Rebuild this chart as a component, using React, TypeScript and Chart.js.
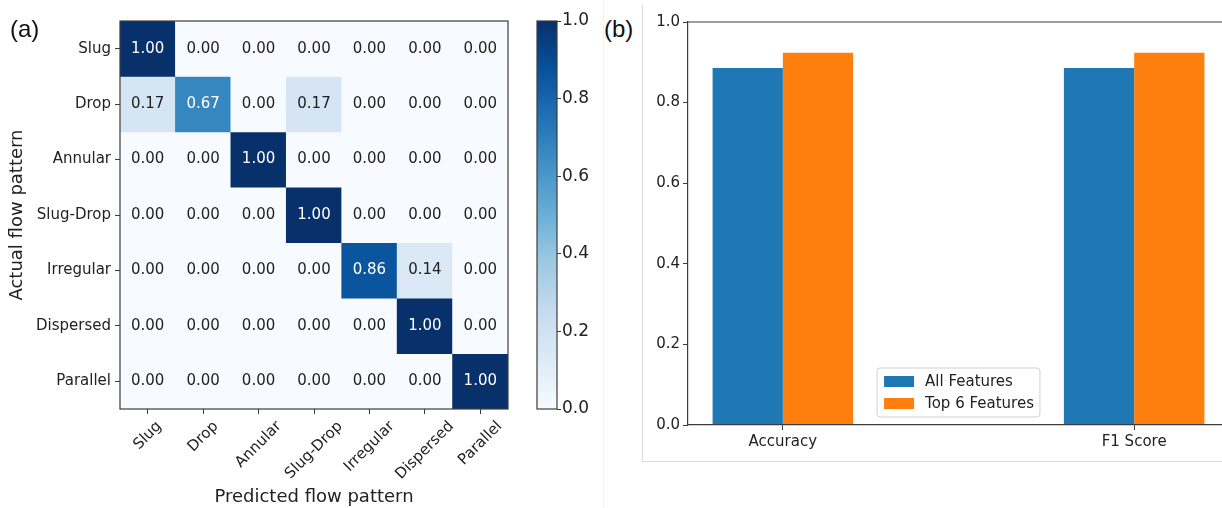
import React, { useEffect, useRef } from 'react';
import { Chart, registerables } from 'chart.js';

Chart.register(...registerables);

// ---------- data ----------
const actualLabels = ['Slug', 'Drop', 'Annular', 'Slug-Drop', 'Irregular', 'Dispersed', 'Parallel'];
const predictedLabels = ['Slug', 'Drop', 'Annular', 'Slug-Drop', 'Irregular', 'Dispersed', 'Parallel'];

const rowSlug = [1.0, 0.0, 0.0, 0.0, 0.0, 0.0, 0.0];
const rowDrop = [0.17, 0.67, 0.0, 0.17, 0.0, 0.0, 0.0];
const rowAnnular = [0.0, 0.0, 1.0, 0.0, 0.0, 0.0, 0.0];
const rowSlugDrop = [0.0, 0.0, 0.0, 1.0, 0.0, 0.0, 0.0];
const rowIrregular = [0.0, 0.0, 0.0, 0.0, 0.86, 0.14, 0.0];
const rowDispersed = [0.0, 0.0, 0.0, 0.0, 0.0, 1.0, 0.0];
const rowParallel = [0.0, 0.0, 0.0, 0.0, 0.0, 0.0, 1.0];
const confusionRows = [rowSlug, rowDrop, rowAnnular, rowSlugDrop, rowIrregular, rowDispersed, rowParallel];

const colorbarRange = [0, 1];
const colorbarTicks = [0.0, 0.2, 0.4, 0.6, 0.8, 1.0];

const metricLabels = ['Accuracy', 'F1 Score'];
const seriesNames = ['All Features', 'Top 6 Features'];
const allFeatures = [0.886, 0.886];
const top6Features = [0.924, 0.924];
const barTicks = [0.0, 0.2, 0.4, 0.6, 0.8, 1.0];

// ---------- styles ----------
const FONT = '"DejaVu Sans", sans-serif';
const TEXT = '#222222';
const SPINE = '#3c3c3c';
const BLUE = '#1f77b4';
const ORANGE = '#ff7f0e';

const BLUES_STOPS: [number, number[]][] = [
  [0.0, [247, 251, 255]],
  [0.125, [222, 235, 247]],
  [0.25, [198, 219, 239]],
  [0.375, [158, 202, 225]],
  [0.5, [107, 174, 214]],
  [0.625, [66, 146, 198]],
  [0.75, [33, 113, 181]],
  [0.875, [8, 81, 156]],
  [1.0, [8, 48, 107]],
];

function blues(v: number): string {
  const t = Math.max(0, Math.min(1, v));
  for (let i = 1; i < BLUES_STOPS.length; i++) {
    const [p1, c1] = BLUES_STOPS[i];
    const [p0, c0] = BLUES_STOPS[i - 1];
    if (t <= p1) {
      const f = (t - p0) / (p1 - p0);
      const c = c0.map((a, k) => Math.round(a + (c1[k] - a) * f));
      return `rgb(${c[0]},${c[1]},${c[2]})`;
    }
  }
  const c = BLUES_STOPS[BLUES_STOPS.length - 1][1];
  return `rgb(${c[0]},${c[1]},${c[2]})`;
}

function HeatmapChart() {
  const ref = useRef<HTMLCanvasElement>(null);
  useEffect(() => {
    const heatPlugin = {
      id: 'heat',
      beforeDatasetsDraw(chart: any) {
        const { ctx, chartArea: a } = chart;
        ctx.save();
        ctx.fillStyle = blues(0);
        ctx.fillRect(a.left, a.top, a.right - a.left, a.bottom - a.top);
        ctx.restore();
      },
      afterDatasetsDraw(chart: any) {
        const { ctx, chartArea: a } = chart;
        ctx.save();
        ctx.font = `15px ${FONT}`;
        ctx.textAlign = 'center';
        ctx.textBaseline = 'middle';
        confusionRows.forEach((row, i) => {
          const meta = chart.getDatasetMeta(i);
          row.forEach((v, j) => {
            const el: any = meta.data[j];
            const cy = (el.y + el.base) / 2;
            ctx.fillStyle = v > 0.5 ? '#ffffff' : TEXT;
            ctx.fillText(v.toFixed(2), el.x, cy);
          });
        });
        ctx.strokeStyle = SPINE;
        ctx.lineWidth = 1.2;
        ctx.strokeRect(a.left, a.top, a.right - a.left, a.bottom - a.top);
        // rotated x tick labels, centred under each tick
        const xs = chart.scales.x;
        ctx.fillStyle = TEXT;
        const h = 17;
        chart.data.labels.forEach((lab: string, i: number) => {
          const x = xs.getPixelForTick(i);
          const w = ctx.measureText(lab).width;
          const cy = xs.top + 5 + 4 + ((w + h) * Math.SQRT1_2) / 2;
          ctx.save();
          ctx.translate(x, cy);
          ctx.rotate(-Math.PI / 4);
          ctx.fillText(lab, 0, 0);
          ctx.restore();
        });
        ctx.restore();
      },
    };
    const chart = new Chart(ref.current!, {
      type: 'bar',
      data: {
        labels: predictedLabels,
        datasets: confusionRows.map((row, i) => ({
          label: actualLabels[i],
          data: row.map(() => 1),
          backgroundColor: row.map((v) => blues(v)),
          borderWidth: 0,
          barPercentage: 1,
          categoryPercentage: 1,
        })),
      },
      options: {
        animation: false,
        responsive: false,
        devicePixelRatio: 1,
        layout: { padding: { left: 0, top: 21, right: 12, bottom: 0 } },
        plugins: { legend: { display: false }, tooltip: { enabled: false } },
        scales: {
          x: {
            type: 'category',
            stacked: true,
            offset: true,
            grid: { display: true, offset: false, drawOnChartArea: false, drawTicks: true, tickLength: 5, color: SPINE, lineWidth: 1 },
            border: { display: false },
            ticks: { display: false },
            title: { display: true, text: 'Predicted flow pattern', color: TEXT, font: { family: FONT, size: 18 }, padding: { top: 0, bottom: 0 } },
            afterFit: (s: any) => { s.height = 99; },
          },
          y: {
            type: 'linear',
            stacked: true,
            reverse: true,
            min: 0,
            max: actualLabels.length,
            afterBuildTicks: (s: any) => { s.ticks = actualLabels.map((_, i) => ({ value: i + 0.5 })); },
            ticks: {
              callback: (v: any) => actualLabels[Math.floor(Number(v))],
              color: TEXT,
              font: { family: FONT, size: 15 },
              padding: 4,
            },
            grid: { display: true, drawOnChartArea: false, drawTicks: true, tickLength: 5, color: SPINE, lineWidth: 1 },
            border: { display: false },
            title: { display: true, text: 'Actual flow pattern', color: TEXT, font: { family: FONT, size: 18 }, padding: { top: 7, bottom: 0 } },
            afterFit: (s: any) => { s.width = 120; },
          },
        },
      } as any,
      plugins: [heatPlugin],
    });
    return () => chart.destroy();
  }, []);
  return <canvas ref={ref} width={520} height={508} style={{ position: 'absolute', left: 0, top: 0, display: 'block' }} />;
}

function ColorbarChart() {
  const ref = useRef<HTMLCanvasElement>(null);
  useEffect(() => {
    const framePlugin = {
      id: 'cbframe',
      afterDatasetsDraw(chart: any) {
        const { ctx, chartArea: a } = chart;
        ctx.save();
        ctx.strokeStyle = SPINE;
        ctx.lineWidth = 1.2;
        ctx.strokeRect(a.left, a.top, a.right - a.left, a.bottom - a.top);
        ctx.restore();
      },
    };
    const chart = new Chart(ref.current!, {
      type: 'bar',
      data: {
        labels: [''],
        datasets: [
          {
            data: [colorbarRange] as any,
            backgroundColor: (c: any) => {
              const { chart: ch } = c;
              const ys = ch.scales?.y;
              if (!ch.chartArea || !ys) return blues(0.5);
              const g = ch.ctx.createLinearGradient(0, ys.getPixelForValue(colorbarRange[0]), 0, ys.getPixelForValue(colorbarRange[1]));
              BLUES_STOPS.forEach(([p]) => g.addColorStop(p, blues(p)));
              return g;
            },
            borderWidth: 0,
            barPercentage: 1,
            categoryPercentage: 1,
          },
        ],
      },
      options: {
        animation: false,
        responsive: false,
        devicePixelRatio: 1,
        layout: { padding: { left: 17, top: 21, right: 0, bottom: 99 } },
        plugins: { legend: { display: false }, tooltip: { enabled: false } },
        scales: {
          x: { display: false },
          y: {
            position: 'right',
            min: colorbarRange[0],
            max: colorbarRange[1],
            afterBuildTicks: (s: any) => { s.ticks = colorbarTicks.map((v) => ({ value: v })); },
            ticks: { callback: (v: any) => Number(v).toFixed(1), color: TEXT, font: { family: FONT, size: 17 }, padding: 1 },
            grid: { display: true, drawOnChartArea: false, drawTicks: true, tickLength: 4, color: SPINE, lineWidth: 1 },
            border: { display: false },
            afterFit: (s: any) => { s.width = 43; },
          },
        },
      } as any,
      plugins: [framePlugin],
    });
    return () => chart.destroy();
  }, []);
  return <canvas ref={ref} width={80} height={508} style={{ position: 'absolute', left: 520, top: 0, display: 'block' }} />;
}

function BarChart() {
  const ref = useRef<HTMLCanvasElement>(null);
  useEffect(() => {
    const spinePlugin = {
      id: 'spines',
      afterDraw(chart: any) {
        const { ctx, chartArea: a } = chart;
        ctx.save();
        ctx.strokeStyle = SPINE;
        ctx.lineWidth = 1.2;
        ctx.beginPath();
        ctx.moveTo(a.left, a.top);
        ctx.lineTo(a.right, a.top);
        ctx.lineTo(a.right, a.bottom);
        ctx.stroke();
        // legend (lower centre, inside axes)
        const fs = 15;
        ctx.font = `${fs}px ${FONT}`;
        const ds = chart.data.datasets;
        const tw = Math.max(...ds.map((d: any) => ctx.measureText(d.label).width));
        const pad = 6;
        const handle = 30;
        const hpad = 12;
        const rowH = 15;
        const gap = 7;
        const bw = pad + handle + hpad + tw + pad;
        const bh = pad * 2 + rowH * ds.length + gap * (ds.length - 1);
        const bx = (a.left + a.right) / 2 - bw / 2;
        const by = a.bottom - 8 - bh;
        ctx.beginPath();
        const r = 3;
        ctx.moveTo(bx + r, by);
        ctx.lineTo(bx + bw - r, by);
        ctx.arcTo(bx + bw, by, bx + bw, by + r, r);
        ctx.lineTo(bx + bw, by + bh - r);
        ctx.arcTo(bx + bw, by + bh, bx + bw - r, by + bh, r);
        ctx.lineTo(bx + r, by + bh);
        ctx.arcTo(bx, by + bh, bx, by + bh - r, r);
        ctx.lineTo(bx, by + r);
        ctx.arcTo(bx, by, bx + r, by, r);
        ctx.closePath();
        ctx.fillStyle = 'rgba(255,255,255,0.85)';
        ctx.fill();
        ctx.strokeStyle = '#d0d0d0';
        ctx.lineWidth = 1;
        ctx.stroke();
        ds.forEach((d: any, i: number) => {
          const cy = by + pad + rowH / 2 + i * (rowH + gap);
          ctx.fillStyle = d.backgroundColor;
          ctx.fillRect(bx + pad + 1, cy - 5.5, handle, 11);
          ctx.fillStyle = TEXT;
          ctx.textAlign = 'left';
          ctx.textBaseline = 'middle';
          ctx.fillText(d.label, bx + pad + handle + hpad, cy + 0.5);
        });
        ctx.restore();
      },
    };
    const chart = new Chart(ref.current!, {
      type: 'bar',
      data: {
        datasets: [
          {
            label: seriesNames[0],
            data: allFeatures.map((v, i) => ({ x: i, y: v })),
            backgroundColor: BLUE,
            borderWidth: 0,
            barPercentage: 1,
            categoryPercentage: 0.4,
          },
          {
            label: seriesNames[1],
            data: top6Features.map((v, i) => ({ x: i, y: v })),
            backgroundColor: ORANGE,
            borderWidth: 0,
            barPercentage: 1,
            categoryPercentage: 0.4,
          },
        ],
      },
      options: {
        animation: false,
        responsive: false,
        devicePixelRatio: 1,
        layout: { padding: { left: 0, top: 22, right: 14, bottom: 43 } },
        plugins: { legend: { display: false }, tooltip: { enabled: false } },
        scales: {
          x: {
            type: 'linear',
            offset: false,
            min: -0.27,
            max: metricLabels.length - 1 + 0.27,
            afterBuildTicks: (s: any) => { s.ticks = metricLabels.map((_, i) => ({ value: i })); },
            ticks: { callback: (v: any) => metricLabels[Math.round(Number(v))], color: TEXT, font: { family: FONT, size: 15 }, padding: 3, maxRotation: 0, autoSkip: false },
            grid: { display: true, offset: false, drawOnChartArea: false, drawTicks: true, tickLength: 5, color: SPINE, lineWidth: 1 },
            border: { display: true, color: SPINE, width: 1.2, z: 1 },
            afterFit: (s: any) => { s.height = 40; },
          },
          y: {
            min: 0,
            max: 1,
            afterBuildTicks: (s: any) => { s.ticks = barTicks.map((v) => ({ value: v })); },
            ticks: { callback: (v: any) => Number(v).toFixed(1), color: TEXT, font: { family: FONT, size: 15 }, padding: 3 },
            grid: { display: true, drawOnChartArea: false, drawTicks: true, tickLength: 5, color: SPINE, lineWidth: 1 },
            border: { display: true, color: SPINE, width: 1.2, z: 1 },
            afterFit: (s: any) => { s.width = 45; },
          },
        },
      } as any,
      plugins: [spinePlugin],
    });
    return () => chart.destroy();
  }, []);
  return <canvas ref={ref} width={600} height={508} style={{ position: 'absolute', left: 643, top: 0, display: 'block' }} />;
}

export default function App() {
  const panelLabel: React.CSSProperties = {
    position: 'absolute',
    top: 17,
    fontFamily: '"Liberation Sans", Arial, sans-serif',
    fontSize: 24,
    lineHeight: '24px',
    color: '#111',
  };
  return (
    <div style={{ position: 'fixed', left: 0, top: 0, width: 1222, height: 508, overflow: 'hidden', background: '#ffffff' }}>
      <div style={{ position: 'absolute', left: 603, top: 0, width: 0, height: 508, borderLeft: '1px solid #f2f2f2' }} />
      <div style={{ position: 'absolute', left: 642, top: 5, width: 700, height: 457, boxSizing: 'border-box', borderLeft: '1px solid #dcdcdc', borderBottom: '1px solid #dcdcdc' }} />
      <HeatmapChart />
      <ColorbarChart />
      <BarChart />
      <div style={{ ...panelLabel, left: 10 }}>(a)</div>
      <div style={{ ...panelLabel, left: 604 }}>(b)</div>
    </div>
  );
}
